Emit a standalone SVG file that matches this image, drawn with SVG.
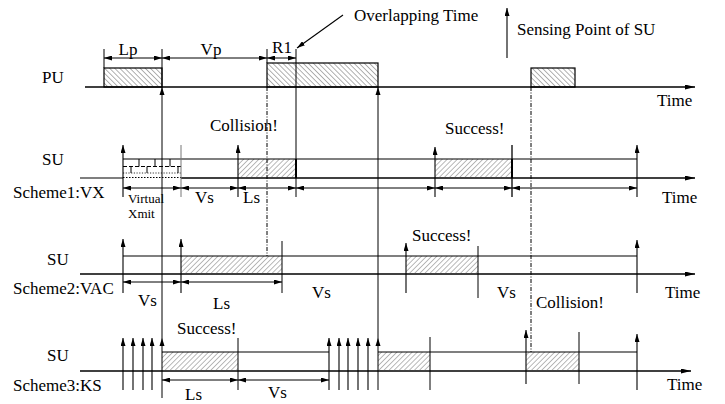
<svg xmlns="http://www.w3.org/2000/svg" width="725" height="404" viewBox="0 0 725 404">
<style>
text{font-family:"Liberation Serif","Times New Roman",serif;font-size:17px;fill:#000}
.sm{font-size:13px}
.ax{stroke:#000;stroke-width:1.4;fill:none;marker-end:url(#ta)}
.ln{stroke:#000;stroke-width:1.2;fill:none}
.tk{stroke:#000;stroke-width:1;fill:none}
.dim{stroke:#000;stroke-width:1;fill:none;marker-start:url(#ah);marker-end:url(#ah)}
.sn{stroke:#000;stroke-width:1.1;fill:none;marker-end:url(#ah)}
.dd{stroke:#000;stroke-width:1;fill:none;stroke-dasharray:4 1.5 1 1.5}
.pu{fill:url(#hb);stroke:#000;stroke-width:1.2}
.su{fill:url(#hf);stroke:none}
</style>
<defs>
<pattern id="hb" width="3.6" height="3.6" patternUnits="userSpaceOnUse" patternTransform="rotate(-45)"><line x1="0" y1="0" x2="0" y2="3.6" stroke="#222" stroke-width="0.7"/></pattern>
<pattern id="hf" width="3.6" height="3.6" patternUnits="userSpaceOnUse" patternTransform="rotate(45)"><line x1="0" y1="0" x2="0" y2="3.6" stroke="#444" stroke-width="0.75"/></pattern>
<marker id="ah" viewBox="0 0 8 5" refX="8" refY="2.5" markerWidth="8" markerHeight="5" markerUnits="userSpaceOnUse" orient="auto-start-reverse"><path d="M0,0 L8,2.5 L0,5 z" fill="#000"/></marker>
<marker id="ta" viewBox="0 0 10 5" refX="10" refY="2.5" markerWidth="10" markerHeight="5" markerUnits="userSpaceOnUse" orient="auto"><path d="M0,0 L10,2.5 L0,5 z" fill="#000"/></marker>
</defs>

<g id="legend">
<line class="sn" x1="507" y1="58" x2="507" y2="8"/>
<text x="517" y="35">Sensing Point of SU</text>
<text x="354" y="21">Overlapping Time</text>
<line class="sn" x1="343" y1="15" x2="297" y2="48"/>
</g>

<g id="pu">
<text x="42" y="83">PU</text>
<line class="ax" x1="85" y1="87" x2="695" y2="87"/>
<text x="657" y="106">Time</text>
<rect class="pu" x="104" y="68" width="58" height="19"/>
<rect class="pu" x="267" y="63" width="111" height="24"/>
<rect class="pu" x="531" y="68" width="44" height="19"/>
<line class="tk" x1="104" y1="49" x2="104" y2="68"/>
<line class="tk" x1="267" y1="49" x2="267" y2="63"/>
<line class="dim" x1="104" y1="58" x2="162" y2="58"/>
<line class="dim" x1="162" y1="58" x2="267" y2="58"/>
<line class="dim" x1="267" y1="58" x2="296" y2="58"/>
<text x="128" y="55" text-anchor="middle">Lp</text>
<text x="211" y="55" text-anchor="middle">Vp</text>
<text x="282" y="53" text-anchor="middle">R1</text>
</g>

<g id="scheme1">
<text x="42" y="165">SU</text>
<text x="13" y="198">Scheme1:VX</text>
<line class="ln" x1="80" y1="178" x2="123" y2="178"/>
<line x1="123" y1="177.5" x2="181" y2="177.5" stroke="#000" stroke-width="1.2" stroke-dasharray="1.5 1.5"/>
<line class="ax" x1="181" y1="178" x2="695" y2="178"/>
<text x="662" y="203">Time</text>
<rect class="su" x="238" y="159" width="58" height="19"/>
<rect class="su" x="435" y="159" width="77" height="19"/>
<line class="ln" x1="123" y1="159" x2="637" y2="159"/>
<line x1="123" y1="166.5" x2="181" y2="166.5" stroke="#000" stroke-width="1" stroke-dasharray="4 2"/>
<line x1="123" y1="173" x2="181" y2="173" stroke="#000" stroke-width="0.8" stroke-dasharray="1.2 1.5"/>
<path class="tk" d="M139,159V166.5M155,159V166.5M170,159V166.5M131,166.5V173M147,166.5V173M178,166.5V173"/>
<line class="sn" x1="123" y1="197" x2="123" y2="145"/>
<line x1="181" y1="145" x2="181" y2="197" stroke="#777" stroke-width="1"/>
<line class="sn" x1="238" y1="197" x2="238" y2="145"/>
<line x1="296" y1="159" x2="296" y2="178" stroke="#000" stroke-width="2"/>
<line class="sn" x1="435" y1="197" x2="435" y2="147"/>
<line x1="512" y1="145" x2="512" y2="197" stroke="#000" stroke-width="1.3"/>
<line x1="512" y1="159" x2="512" y2="178" stroke="#000" stroke-width="2"/>
<line class="sn" x1="637" y1="197" x2="637" y2="145"/>
<line class="dim" x1="123" y1="188" x2="181" y2="188"/>
<line class="dim" x1="181" y1="188" x2="238" y2="188"/>
<line class="dim" x1="238" y1="188" x2="296" y2="188"/>
<line class="dim" x1="296" y1="188" x2="435" y2="188"/>
<line class="dim" x1="435" y1="188" x2="512" y2="188"/>
<line class="dim" x1="512" y1="188" x2="637" y2="188"/>
<text class="sm" x="128" y="203">Virtual</text>
<text class="sm" x="128" y="218">Xmit</text>
<text x="195" y="203">Vs</text>
<text x="243" y="203">Ls</text>
<text x="210" y="131">Collision!</text>
<text x="445" y="134">Success!</text>
</g>

<g id="scheme2">
<text x="47" y="265">SU</text>
<text x="13" y="294">Scheme2:VAC</text>
<line class="ax" x1="80" y1="274" x2="695" y2="274"/>
<text x="665" y="298">Time</text>
<rect class="su" x="181" y="256" width="101" height="18"/>
<rect class="su" x="406" y="256" width="72" height="18"/>
<line class="ln" x1="123" y1="256" x2="637" y2="256"/>
<line class="sn" x1="123" y1="293" x2="123" y2="239"/>
<line class="sn" x1="181" y1="293" x2="181" y2="239"/>
<line class="tk" x1="282" y1="241" x2="282" y2="293"/>
<line class="sn" x1="406" y1="293" x2="406" y2="243"/>
<line class="tk" x1="478" y1="246" x2="478" y2="298"/>
<line class="sn" x1="637" y1="293" x2="637" y2="240"/>
<line class="dim" x1="123" y1="282" x2="181" y2="282"/>
<line class="dim" x1="181" y1="282" x2="282" y2="282"/>
<text x="138" y="306">Vs</text>
<text x="213" y="309">Ls</text>
<text x="312" y="298">Vs</text>
<text x="497" y="298">Vs</text>
<text x="412" y="241">Success!</text>
<text x="536" y="308">Collision!</text>
</g>

<g id="scheme3">
<text x="47" y="361">SU</text>
<text x="13" y="391">Scheme3:KS</text>
<line class="ax" x1="80" y1="371" x2="691" y2="371"/>
<text x="667" y="390">Time</text>
<rect class="su" x="162" y="352" width="76" height="19"/>
<rect class="su" x="378" y="352" width="52" height="19"/>
<rect class="su" x="526" y="352" width="53" height="19"/>
<line class="ln" x1="162" y1="352" x2="329" y2="352"/>
<line class="ln" x1="378" y1="352" x2="637" y2="352"/>
<line class="sn" x1="123" y1="390" x2="123" y2="338"/>
<line class="sn" x1="133" y1="390" x2="133" y2="338" stroke="#555"/>
<line class="sn" x1="143" y1="390" x2="143" y2="338" stroke="#555"/>
<line class="sn" x1="152" y1="390" x2="152" y2="338" stroke="#555"/>
<line class="tk" x1="238" y1="338" x2="238" y2="390"/>
<line class="sn" x1="329" y1="390" x2="329" y2="338"/>
<line class="sn" x1="339" y1="390" x2="339" y2="338" stroke="#555"/>
<line class="sn" x1="348" y1="390" x2="348" y2="338" stroke="#555"/>
<line class="sn" x1="358" y1="390" x2="358" y2="338" stroke="#555"/>
<line class="sn" x1="368" y1="390" x2="368" y2="338" stroke="#555"/>
<line class="tk" x1="430" y1="337" x2="430" y2="390"/>
<line class="sn" x1="526" y1="384" x2="526" y2="330"/>
<line class="tk" x1="579" y1="332" x2="579" y2="384"/>
<line class="sn" x1="637" y1="390" x2="637" y2="334" stroke="#555"/>
<line class="dim" x1="162" y1="380" x2="238" y2="380"/>
<line class="dim" x1="238" y1="380" x2="329" y2="380"/>
<text x="177" y="334">Success!</text>
<text x="185" y="400">Ls</text>
<text x="268" y="398">Vs</text>
</g>

<g id="connectors">
<line class="tk" x1="162" y1="398" x2="162" y2="49"/>
<path d="M162,87 L159.5,95 L164.5,95 z" fill="#000"/>
<path d="M162,338 L159.5,346 L164.5,346 z" fill="#000"/>
<line class="tk" x1="378" y1="390" x2="378" y2="87"/>
<path d="M378,87 L375.5,95 L380.5,95 z" fill="#000"/>
<path d="M378,338 L375.5,346 L380.5,346 z" fill="#000"/>
<line class="tk" x1="296" y1="49" x2="296" y2="197"/>
<line class="dd" x1="267" y1="87" x2="267" y2="256"/>
<line class="dd" x1="531" y1="87" x2="531" y2="352"/>
</g>
</svg>
